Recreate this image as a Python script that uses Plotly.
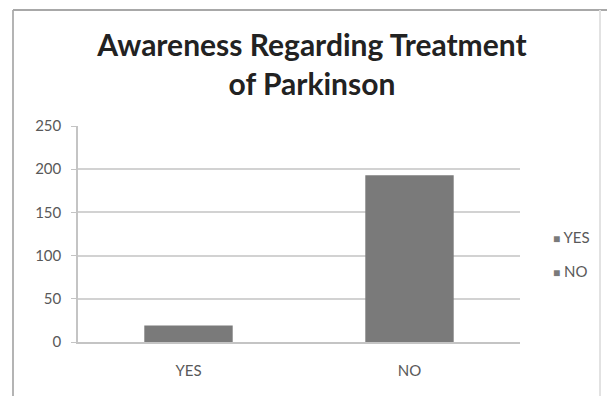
import plotly.graph_objects as go

categories = ["YES", "NO"]
counts = [19, 193]
y_ticks = [0, 50, 100, 150, 200, 250]

bar_color = "#7a7a7a"
text_color = "#595959"

fig = go.Figure()
for cat, val in zip(categories, counts):
    fig.add_trace(go.Bar(
        x=[cat], y=[val], name=cat, width=0.4,
        marker=dict(color=bar_color, line=dict(width=0)),
        showlegend=False,
    ))

# Legend entries drawn as small gray squares with labels on the right
legend_y = [0.485, 0.33]
for cat, ly in zip(categories, legend_y):
    fig.add_annotation(
        xref="paper", yref="paper", x=1.07, y=ly, xanchor="left", yanchor="middle",
        text=f"<span style='color:{bar_color};font-size:12px'>■</span> {cat}",
        showarrow=False, font=dict(family="Lato", size=15, color=text_color),
    )

W, H = 607, 396
L, R, T, B = 78, 87, 126, 54

# Chart frame
shapes = [
    dict(x0=13, y0=10, x1=13, y1=396, color="#b4b4b4"),
    dict(x0=13, y0=10, x1=607, y1=10, color="#a8a8a8"),
    dict(x0=600, y0=10, x1=600, y1=396, color="#e2e2e2"),
]
for s in shapes:
    fig.add_shape(
        type="line", xref="paper", yref="paper",
        x0=(s["x0"] - L) / (W - L - R), x1=(s["x1"] - L) / (W - L - R),
        y0=1 - (s["y0"] - T) / (H - T - B), y1=1 - (s["y1"] - T) / (H - T - B),
        line=dict(color=s["color"], width=2),
    )

fig.update_layout(
    width=W, height=H,
    margin=dict(l=L, r=R, t=T, b=B),
    paper_bgcolor="white", plot_bgcolor="white",
    barmode="overlay",
    title=dict(
        text="Awareness Regarding Treatment<br>of Parkinson",
        x=0.514, xanchor="center", y=0.858, yanchor="middle",
        font=dict(family="Lato", size=30, color="#222222", weight="bold"),
    ),
    xaxis=dict(
        categoryorder="array", categoryarray=categories,
        showline=True, linecolor="#c4c4c4", linewidth=1.5,
        ticks="", ticklabelstandoff=14,
        tickfont=dict(family="Lato", size=15, color=text_color),
        showgrid=False,
    ),
    yaxis=dict(
        range=[0, 250], tickvals=y_ticks,
        showline=True, linecolor="#c4c4c4", linewidth=1.5,
        ticks="outside", ticklen=5, tickcolor="#c4c4c4",
        ticklabelstandoff=7,
        gridcolor="#d2d2d2", gridwidth=2,
        tickfont=dict(family="Lato", size=15, color=text_color),
        zeroline=False,
    ),
)

fig.write_html("out.html")
